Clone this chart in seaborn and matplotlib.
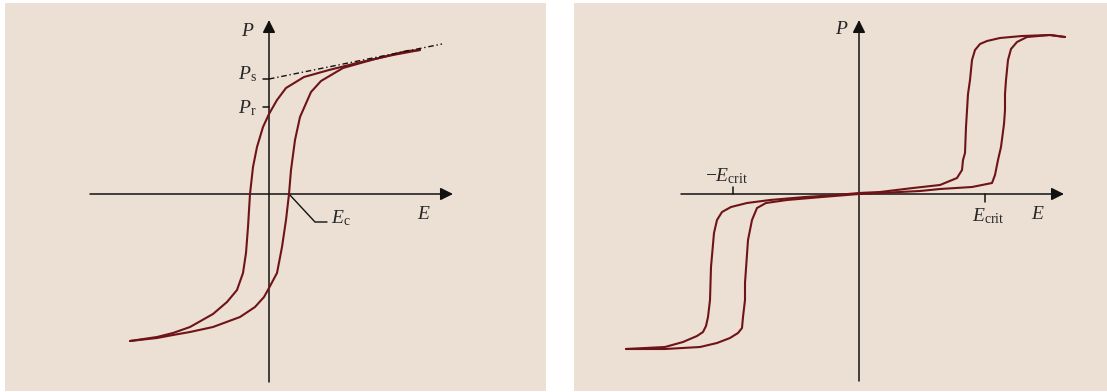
import matplotlib
matplotlib.use("Agg")
import matplotlib.pyplot as plt
import pandas as pd
import seaborn as sns

# ---------------------------------------------------------------------------
# Data: ferroelectric (left) and antiferroelectric double loop (right)
# E and P in arbitrary units
# ---------------------------------------------------------------------------
# Ferroelectric loop: descending branch (left curve)
fe_down_E = [-1.39, -1.12, -0.96, -0.79, -0.56, -0.42, -0.32, -0.26, -0.23, -0.21,
             -0.19, -0.16, -0.12, -0.06, 0.00, 0.08, 0.17, 0.35, 0.60, 0.88, 1.24, 1.51]
fe_down_P = [-1.47, -1.43, -1.39, -1.33, -1.20, -1.08, -0.96, -0.79, -0.59, -0.33,
             0.00, 0.27, 0.47, 0.67, 0.80, 0.94, 1.06, 1.17, 1.24, 1.31, 1.39, 1.44]
# Ferroelectric loop: ascending branch (right curve)
fe_up_E = [-1.39, -1.12, -0.96, -0.79, -0.56, -0.29, -0.14, -0.05, 0.00, 0.08, 0.13,
           0.17, 0.20, 0.22, 0.26, 0.31, 0.42, 0.52, 0.74, 1.06, 1.38, 1.51]
fe_up_P = [-1.47, -1.44, -1.41, -1.38, -1.33, -1.23, -1.13, -1.03, -0.94, -0.79, -0.53,
           -0.26, 0.00, 0.24, 0.54, 0.77, 1.02, 1.13, 1.26, 1.35, 1.43, 1.44]

# Saturation extrapolation line and characteristic values
sat_E = [0.00, 1.73]
sat_P = [1.15, 1.50]
P_s = 1.15
P_r = 0.87
E_c = 0.20

# Antiferroelectric double loop: descending branch
afe_down_E = [-2.33, -1.94, -1.76, -1.62, -1.56, -1.53, -1.51, -1.49, -1.48, -1.45,
              -1.42, -1.37, -1.28, -1.12, -0.89, -0.54, -0.22, 0.00, 0.21, 0.54,
              0.81, 0.98, 1.03, 1.04, 1.06, 1.07, 1.09, 1.11, 1.13, 1.16, 1.21,
              1.28, 1.41, 1.63, 1.91, 2.06]
afe_down_P = [-1.55, -1.53, -1.48, -1.42, -1.38, -1.32, -1.23, -1.06, -0.73, -0.39,
              -0.26, -0.18, -0.13, -0.09, -0.06, -0.03, -0.01, 0.01, 0.02, 0.06,
              0.09, 0.16, 0.24, 0.34, 0.41, 0.67, 1.00, 1.14, 1.34, 1.44, 1.50,
              1.53, 1.56, 1.58, 1.59, 1.57]
# Antiferroelectric double loop: ascending branch
afe_up_E = [-2.33, -1.94, -1.59, -1.42, -1.29, -1.21, -1.17, -1.16, -1.14, -1.14,
            -1.11, -1.07, -1.02, -0.93, -0.72, -0.37, 0.00, 0.21, 0.61, 0.81,
            1.13, 1.33, 1.36, 1.39, 1.42, 1.45, 1.46, 1.46, 1.47, 1.49, 1.52,
            1.58, 1.68, 1.91, 2.06]
afe_up_P = [-1.55, -1.55, -1.53, -1.49, -1.44, -1.39, -1.34, -1.23, -1.06, -0.89,
            -0.46, -0.26, -0.14, -0.09, -0.06, -0.03, 0.00, 0.01, 0.03, 0.05,
            0.07, 0.11, 0.19, 0.34, 0.47, 0.70, 0.84, 1.00, 1.14, 1.34, 1.45,
            1.52, 1.57, 1.59, 1.57]
E_crit = 1.26

# ---------------------------------------------------------------------------
sns.set_theme(style="white")
plt.rcParams["font.family"] = ["Liberation Serif", "DejaVu Serif"]
plt.rcParams["mathtext.fontset"] = "custom"
plt.rcParams["mathtext.rm"] = "Liberation Serif"
plt.rcParams["mathtext.it"] = "Liberation Serif:italic"

BG = "#ECDFD3"
CURVE = "#6E1418"
INK = "#111111"
FS = 14

fig = plt.figure(figsize=(11.07, 3.92), dpi=100, facecolor="white")
W, H = 1107.0, 392.0


def panel(x0, x1, y0, y1, origin_x, origin_y):
    """Axes spanning the pixel box, with 100 px per data unit and the origin at the given pixel."""
    ax = fig.add_axes([x0 / W, 1 - y1 / H, (x1 - x0) / W, (y1 - y0) / H])
    ax.set_facecolor(BG)
    ax.set_xlim((x0 - origin_x) / 100, (x1 - origin_x) / 100)
    ax.set_ylim((origin_y - y1) / 100, (origin_y - y0) / 100)
    ax.set_axis_off()
    ax.add_patch(plt.Rectangle((0, 0), 1, 1, transform=ax.transAxes,
                               facecolor=BG, edgecolor="none", zorder=0))
    return ax


def arrow_axis(ax, start, tip):
    ax.annotate("", xy=tip, xytext=start,
                arrowprops=dict(arrowstyle="-|>", mutation_scale=19, lw=1.1,
                                color=INK, shrinkA=0, shrinkB=0), zorder=3)


def branch(ax, E, P):
    df = pd.DataFrame({"E": E, "P": P})
    sns.lineplot(data=df, x="E", y="P", sort=False, estimator=None, ax=ax,
                 color=CURVE, lw=1.5, zorder=4)


# ---------------- Ferroelectric hysteresis ----------------
ax1 = panel(5, 546, 3, 391, 269, 194)
arrow_axis(ax1, (-1.79, 0), (1.84, 0))
arrow_axis(ax1, (0, -1.88), (0, 1.74))
ax1.plot(sat_E, sat_P, color=INK, lw=1.0, ls=(0, (4, 2, 1, 2)), zorder=5)
branch(ax1, fe_down_E, fe_down_P)
branch(ax1, fe_up_E, fe_up_P)
for pv in (P_s, P_r):
    ax1.plot([-0.06, 0], [pv, pv], color=INK, lw=1.1, zorder=3)
ax1.plot([E_c, 0.46, 0.58], [0, -0.28, -0.28], color=INK, lw=1.0, zorder=3)
ax1.text(-0.21, 1.62, "$P$", fontsize=FS, ha="center", va="center")
ax1.text(-0.22, 1.20, r"$P_\mathrm{s}$", fontsize=FS, ha="center", va="center")
ax1.text(-0.22, 0.86, r"$P_\mathrm{r}$", fontsize=FS, ha="center", va="center")
ax1.text(0.62, -0.24, r"$E_\mathrm{c}$", fontsize=FS, ha="left", va="center")
ax1.text(1.55, -0.21, "$E$", fontsize=FS, ha="center", va="center")
ax1.set_xlabel("")
ax1.set_ylabel("")

# ---------------- Antiferroelectric double loop ----------------
ax2 = panel(574, 1107, 3, 391, 859, 194)
arrow_axis(ax2, (-1.78, 0), (2.05, 0))
arrow_axis(ax2, (0, -1.87), (0, 1.74))
branch(ax2, afe_down_E, afe_down_P)
branch(ax2, afe_up_E, afe_up_P)
ax2.plot([-E_crit, -E_crit], [0, 0.07], color=INK, lw=1.1, zorder=3)
ax2.plot([E_crit, E_crit], [0, -0.08], color=INK, lw=1.1, zorder=3)
ax2.text(-0.17, 1.64, "$P$", fontsize=FS, ha="center", va="center")
ax2.text(-E_crit - 0.06, 0.18, r"$-E_\mathrm{crit}$", fontsize=FS, ha="center", va="center")
ax2.text(E_crit + 0.03, -0.22, r"$E_\mathrm{crit}$", fontsize=FS, ha="center", va="center")
ax2.text(1.79, -0.21, "$E$", fontsize=FS, ha="center", va="center")
ax2.set_xlabel("")
ax2.set_ylabel("")

fig.savefig("out.png", dpi=100, facecolor="white")
